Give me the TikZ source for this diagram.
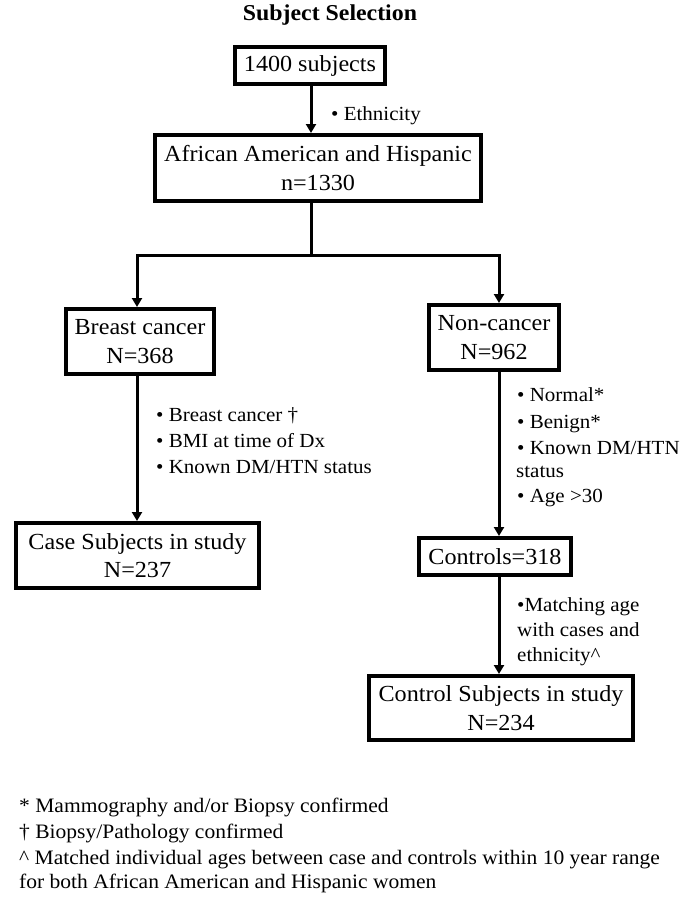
\documentclass[tikz,border=0pt]{standalone}
\usepackage{fontspec}
\setmainfont{Liberation Serif}[FakeStretch=1.05]
\usetikzlibrary{arrows.meta}
\begin{document}
\begin{tikzpicture}[x=1pt,y=-1pt,
  boxst/.style={draw=black, line width=4pt, fill=white, inner sep=0pt, align=center,
    font=\fontsize{23}{28.5}\selectfont},
  arrst/.style={line width=3pt, -{Triangle[length=9pt,width=10pt]}},
  lblst/.style={anchor=base west, inner sep=0pt, font=\fontsize{20}{24}\selectfont},
  fnst/.style={anchor=base west, inner sep=0pt, font=\fontsize{20.5}{24}\selectfont},
  ttlst/.style={anchor=base, inner sep=0pt, font=\fontsize{22.7}{26}\selectfont\bfseries}]
\useasboundingbox (0,0) rectangle (687,899);
\fill[white] (0,0) rectangle (687,899);

\node[ttlst] (title) at (330,21) {Subject Selection};

\node[boxst, minimum width=150pt, minimum height=37pt] (b1) at (310,65.5) {1400 subjects};
\node[boxst, minimum width=326pt, minimum height=66pt] (b2) at (318,168) {African American and Hispanic\\n=1330};
\node[boxst, minimum width=148pt, minimum height=65pt] (b3) at (140,341.5) {Breast cancer\\N=368};
\node[boxst, minimum width=130pt, minimum height=65pt] (b4) at (494,337.5) {Non-cancer\\N=962};
\node[boxst, minimum width=243pt, minimum height=65pt] (b5) at (137.5,555.5) {Case Subjects in study\\N=237};
\node[boxst, minimum width=152pt, minimum height=37pt] (b6) at (495,556.5) {Controls=318};
\node[boxst, minimum width=264pt, minimum height=64pt] (b7) at (501,708) {Control Subjects in study\\N=234};

\coordinate (j) at (311,255);
\coordinate (jl) at (137,255);
\coordinate (jr) at (499,255);

\draw[arrst] (b1.south -| j) -- (j |- b2.north);
\draw[arrst] (b2.south -| j) -- (j) -- (jl) -- (jl |- b3.north);
\draw[arrst] (j) -- (jr) -- (jr |- b4.north);
\draw[arrst] (jl |- b3.south) -- (jl |- b5.north);
\draw[arrst] (jr |- b4.south) -- (jr |- b6.north);
\draw[arrst] (jr |- b6.south) -- (jr |- b7.north);

\node[lblst] (e1) at (331,120) {• Ethnicity};

\node[lblst] (l1) at (156,421.5) {• Breast cancer †};
\node[lblst] (l2) at (156,447) {• BMI at time of Dx};
\node[lblst] (l3) at (156,473.5) {• Known DM/HTN status};

\node[lblst] (r1) at (517,401) {• Normal*};
\node[lblst] (r2) at (517,428) {• Benign*};
\node[lblst] (r3) at (517,454) {• Known DM/HTN};
\node[lblst] (r4) at (516,477) {status};
\node[lblst] (r5) at (517,502) {• Age >30};

\node[lblst] (c1) at (517,611.5) {•Matching age};
\node[lblst] (c2) at (517,636.5) {with cases and};
\node[lblst] (c3) at (517,661.5) {ethnicity\textasciicircum};

\node[fnst] (f1) at (19,812) {* Mammography and/or Biopsy confirmed};
\node[fnst] (f2) at (19,838) {† Biopsy/Pathology confirmed};
\node[fnst] (f3) at (19,864) {\textasciicircum{} Matched individual ages between case and controls within 10 year range};
\node[fnst] (f4) at (19,888) {for both African American and Hispanic women};
\end{tikzpicture}
\end{document}
